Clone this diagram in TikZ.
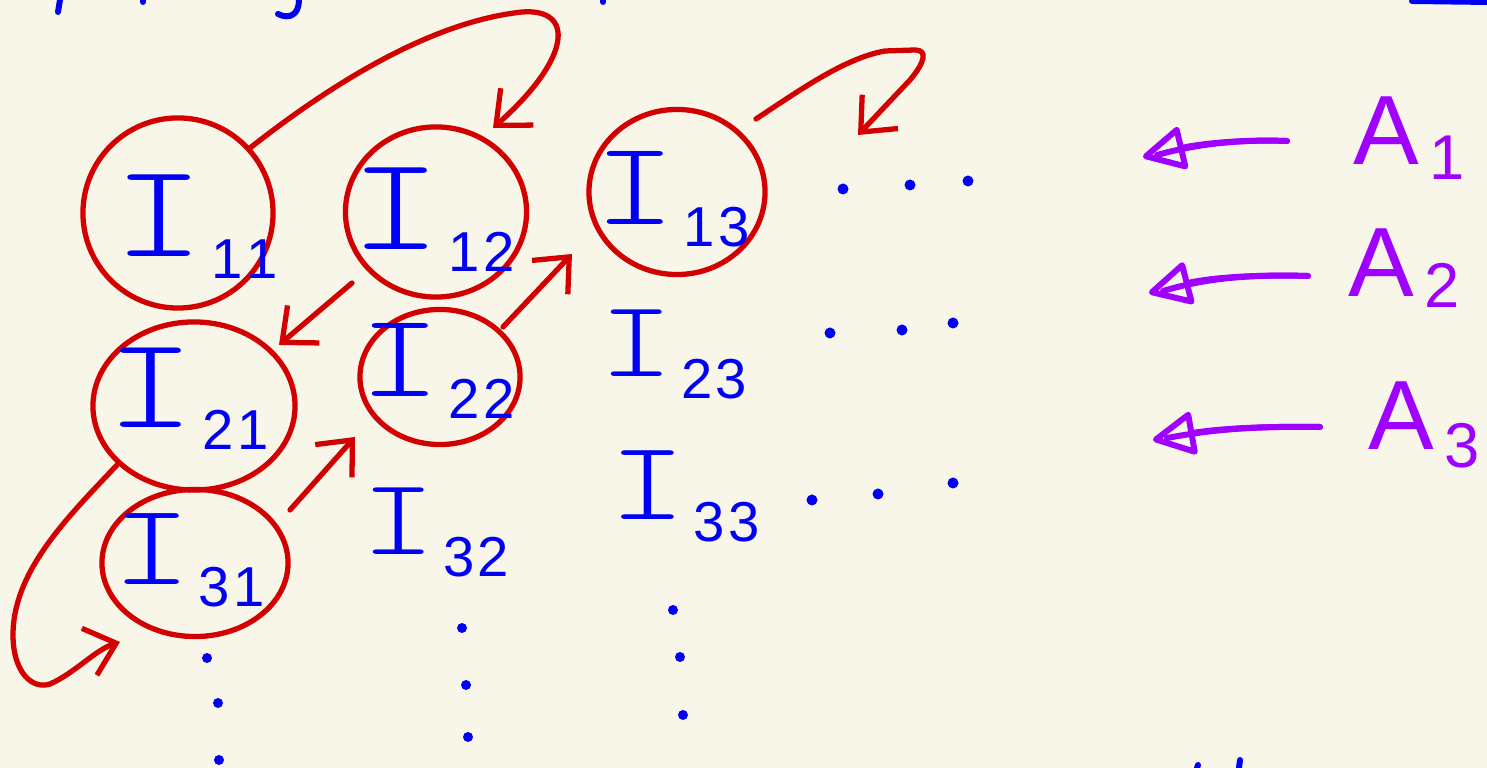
\documentclass[tikz,border=0pt]{standalone}
\usepackage{fontspec}
\usetikzlibrary{arrows.meta,shapes.geometric,calc}
\newfontfamily\Ifont[FakeStretch=1.3]{lmmonolt10-regular.otf}
\newfontfamily\Dfont{Liberation Sans}
\definecolor{bgc}{HTML}{F8F5E9}
\definecolor{inkred}{HTML}{D20000}
\definecolor{inkblue}{HTML}{0000F5}
\definecolor{inkpurple}{HTML}{9F00FF}
\newcommand\Ilab[3]{{\Ifont\fontsize{#1}{#1}\selectfont I}\kern2pt\raisebox{-6pt}{\Dfont\fontsize{16}{16}\selectfont #2\kern1pt #3}}
\newcommand\Alab[3]{{\Dfont\fontsize{28}{28}\selectfont A}\kern3pt\raisebox{#2}{\Dfont\fontsize{#3}{#3}\selectfont #1}}
\tikzset{
  ring/.style={ellipse, draw=inkred, line width=1.5pt, inner sep=0pt},
  lab/.style={text=inkblue, anchor=base west, inner sep=0pt},
  alab/.style={text=inkpurple, anchor=base west, inner sep=0pt},
  rarrow/.style={draw=inkred, line width=1.5pt, line cap=round, line join=round, -{Straight Barb[length=8pt,width=14pt]}},
  parrow/.style={draw=inkpurple, line width=1.7pt, line cap=round, line join=round, -{Triangle[open, length=13pt, width=13pt, round]}},
  pshaft/.style={draw=inkpurple, line width=1.7pt, line cap=round},
  ink/.style={draw=inkblue, line width=1.7pt, line cap=round},
  dotb/.style={fill=inkblue}
}
\begin{document}
\begin{tikzpicture}[x=0.01cm,y=-0.01cm]
\fill[bgc] (0,0) rectangle (1487,768);
\useasboundingbox (0,0) rectangle (1487,768);

% circled nodes
\node[ring, minimum width=1.90cm, minimum height=1.90cm] (c11) at (178,213) {};
\node[ring, minimum width=1.81cm, minimum height=1.70cm] (c12) at (436,212) {};
\node[ring, minimum width=1.76cm, minimum height=1.65cm] (c13) at (677,192) {};
\node[ring, minimum width=2.02cm, minimum height=1.68cm] (c21) at (194,406) {};
\node[ring, minimum width=1.60cm, minimum height=1.35cm] (c22) at (440,377) {};
\node[ring, minimum width=1.86cm, minimum height=1.47cm] (c31) at (195,563) {};

% labels
\node[lab] (t11) at (113,257) {\Ilab{38}{1}{1}};
\node[lab] (t12) at (350,250) {\Ilab{38}{1}{2}};
\node[lab] (t13) at (594,225) {\Ilab{34}{1}{3}};
\node[lab] (t21) at (106,428) {\Ilab{37}{2}{1}};
\node[lab] (t22) at (359,397) {\Ilab{34}{2}{2}};
\node[lab] (t23) at (599,377) {\Ilab{31}{2}{3}};
\node[lab] (t31) at (112,585) {\Ilab{33}{3}{1}};
\node[lab] (t32) at (361,555) {\Ilab{31}{3}{2}};
\node[lab] (t33) at (609,520) {\Ilab{32}{3}{3}};

\node[alab] (a1) at (1353,165) {\Alab{1}{-4pt}{18}};
\node[alab] (a2) at (1348,297) {\Alab{2}{-3pt}{18}};
\node[alab] (a3) at (1368,450) {\Alab{3}{-5pt}{18}};

% horizontal dots
\foreach \x/\y in {843/189, 910/185, 968/181, 830/333, 902/330, 953/323, 812/500, 878/494, 953/483}
  \fill[dotb] (\x,\y) circle[radius=0.055cm];
% vertical dots
\foreach \x/\y in {207/658, 218/703, 219/760, 462/628, 466/685, 468/737, 673/610, 680/657, 683/715}
  \fill[dotb] (\x,\y) circle[radius=0.05cm];

% fragments cut by the frame
\draw[ink] (60,0) -- (58,12);
\draw[ink] (143,0) -- (143,2);
\draw[ink] (299,0) .. controls (299,14) and (290,20) .. (278,14);
\draw[ink] (603,0) -- (603,2);
\draw[ink] (1412,1) -- (1487,2);
\draw[ink] (1197,768) -- (1198,765);
\draw[ink] (1239,768) -- (1240,760);

% red arrows
\draw[rarrow] ($(c11.center)+(72,-65)$) .. controls (330,85) and (430,22) .. (522,12)
   .. controls (575,8) and (572,58) .. ($(c12.center)+(57,-84)$);
\coordinate (e2) at (858,135);
\draw[rarrow] ($(c13.center)+(79,-73)$) .. controls (800,90) and (845,58) .. (885,51) -- (915,50)
   .. controls (928,50) and (925,62) .. (910,80) -- (e2);
\draw[rarrow] ($(c12.center)+(-84,71)$) -- ($(c21.center)+(85,-61)$);
\draw[rarrow] ($(c22.center)+(63,-50)$) -- ($(c13.center)+(-105,62)$);
\draw[rarrow] ($(c31.center)+(95,-53)$) -- ($(c22.center)+(-85,60)$);
\draw[rarrow] ($(c21.center)+(-77,59)$) .. controls (70,515) and (13,570) .. (13,635)
   .. controls (13,672) and (32,690) .. (50,684) .. controls (75,673) and (95,650) .. ($(c31.center)+(-75,79)$);

% purple arrows
\draw[parrow] ($(a1.base west)+(-66,-24)$) .. controls (1230,139) and (1190,146) .. ($(a1.base west)+(-210,-8)$);
\draw[pshaft] ($(a1.base west)+(-66,-24)$) .. controls (1230,139) and (1190,146) .. ($(a1.base west)+(-196,-10)$);
\draw[parrow] ($(a2.base west)+(-40,-21)$) .. controls (1240,274) and (1200,280) .. ($(a2.base west)+(-199,-4)$);
\draw[pshaft] ($(a2.base west)+(-40,-21)$) .. controls (1240,274) and (1200,280) .. ($(a2.base west)+(-185,-6)$);
\draw[parrow] ($(a3.base west)+(-48,-23)$) .. controls (1250,426) and (1210,430) .. ($(a3.base west)+(-215,-10)$);
\draw[pshaft] ($(a3.base west)+(-48,-23)$) .. controls (1250,426) and (1210,430) .. ($(a3.base west)+(-201,-12)$);
\end{tikzpicture}
\end{document}
